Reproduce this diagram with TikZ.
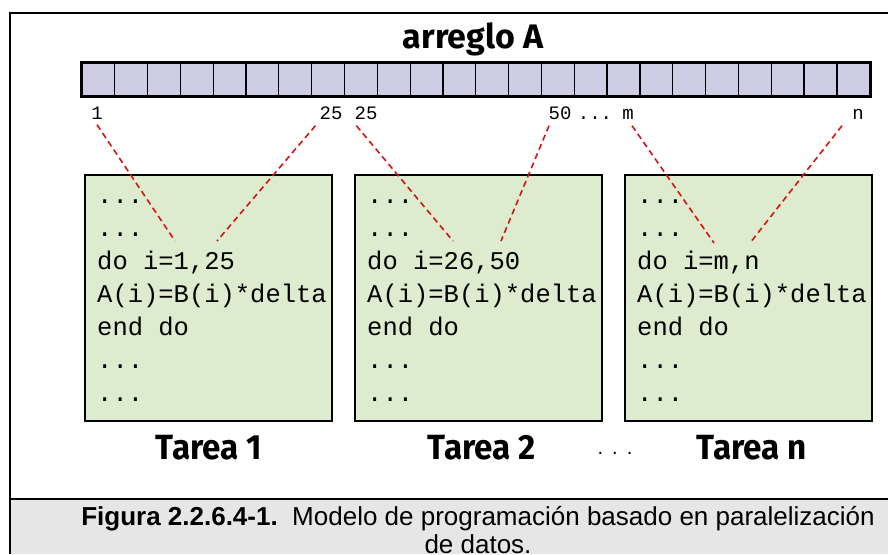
\documentclass[tikz,border=0pt]{standalone}
\usepackage{fontspec}
\setmainfont{Liberation Sans}
\newfontfamily\codefont{Liberation Mono}
\newfontfamily\headfont{Fira Sans}
\newfontfamily\tareafont[FakeStretch=0.95]{Fira Sans}
\newfontfamily\capfont{Liberation Sans}
\usetikzlibrary{calc}
\definecolor{cellcol}{RGB}{205,204,226}
\definecolor{boxcol}{RGB}{221,235,206}
\definecolor{capcol}{RGB}{230,230,230}
\definecolor{linkcol}{RGB}{210,20,20}
\begin{document}
\begin{tikzpicture}[x=1pt,y=-1pt,
    tarea/.style={draw=black,line width=2pt,fill=boxcol,minimum width=247pt,minimum height=246pt,inner sep=0pt},
    code/.style={anchor=base west,align=left,inner sep=0pt,font=\codefont\fontsize{25.5}{33}\selectfont},
    idx/.style={inner sep=0pt,text height=13pt,text depth=0pt,font=\codefont\fontsize{19}{22}\selectfont},
    link/.style={linkcol,line width=1.6pt,dash pattern=on 6pt off 4pt},
    label/.style={font=\tareafont\bfseries\fontsize{35}{40}\selectfont}]
    \useasboundingbox (0,0) rectangle (888,554);

    \fill[capcol] (10,499) rectangle (888,554);
    \draw[line width=2.5pt] (10,554) -- (10,13) -- (888,13);
    \draw[line width=2.5pt] (10,499) -- (888,499);

    \node[font=\headfont\bfseries\fontsize{34}{38}\selectfont] (title) at (473,39) {arreglo A};

    \node[fill=cellcol,minimum width=788pt,minimum height=33pt,inner sep=0pt] (arr) at (476,79.5) {};
    \foreach \k in {1,...,23}
        \draw[line width=1.2pt] ($(arr.north west)+(\k*32.83,0)$) -- ($(arr.south west)+(\k*32.83,0)$);
    \draw[line width=3pt] (arr.north west) rectangle (arr.south east);

    \node[idx] (i1) at (97,113) {1};
    \node[idx] (i25a) at (331,113) {25};
    \node[idx] (i25b) at (366,113) {25};
    \node[idx] (i50) at (560,113) {50};
    \node[idx] (idots) at (595,113) {...};
    \node[idx] (im) at (628,113) {m};
    \node[idx] (in) at (858,113) {n};

    \node[tarea] (t1) at (208.5,297.5) {};
    \node[tarea] (t2) at (478.5,297.5) {};
    \node[tarea] (t3) at (748.5,297.5) {};

    \node[code] (c1) at (97,401) {...\\...\\do i=1,25\\A(i)=B(i)*delta\\end do\\...\\...};
    \node[code] (c2) at (367,401) {...\\...\\do i=26,50\\A(i)=B(i)*delta\\end do\\...\\...};
    \node[code] (c3) at (637,401) {...\\...\\do i=m,n\\A(i)=B(i)*delta\\end do\\...\\...};

    \coordinate (e1a) at (175,241);
    \coordinate (e1b) at (217,241);
    \coordinate (e2a) at (453,241);
    \coordinate (e2b) at (501,241);
    \coordinate (e3a) at (714,243);
    \coordinate (e3b) at (750,243);

    \draw[link] ($(i1.south)+(0,5)$) -- (e1a);
    \draw[link] ($(i25a.south west)+(-4,6)$) -- (e1b);
    \draw[link] ($(i25b.south west)+(2,6)$) -- (e2a);
    \draw[link] ($(i50.south)+(-11,6)$) -- (e2b);
    \draw[link] ($(im.south)+(4,6)$) -- (e3a);
    \draw[link] ($(in.south)+(-16,6)$) -- (e3b);

    \node[label] (l1) at (209,448) {Tarea 1};
    \node[label] (l2) at (482,448) {Tarea 2};
    \node[label] (l3) at (752,448) {Tarea n};
    \node[inner sep=0pt,font=\fontsize{20}{24}\selectfont] (ldots) at (615,453) {.\hspace{9pt}.\hspace{9pt}.};

    \node[inner sep=0pt,font=\capfont\fontsize{26}{28}\selectfont,align=center] (cap) at (478,530) {\textbf{Figura 2.2.6.4-1.}\ \ Modelo de programación basado en paralelización\\de datos.};
\end{tikzpicture}
\end{document}
